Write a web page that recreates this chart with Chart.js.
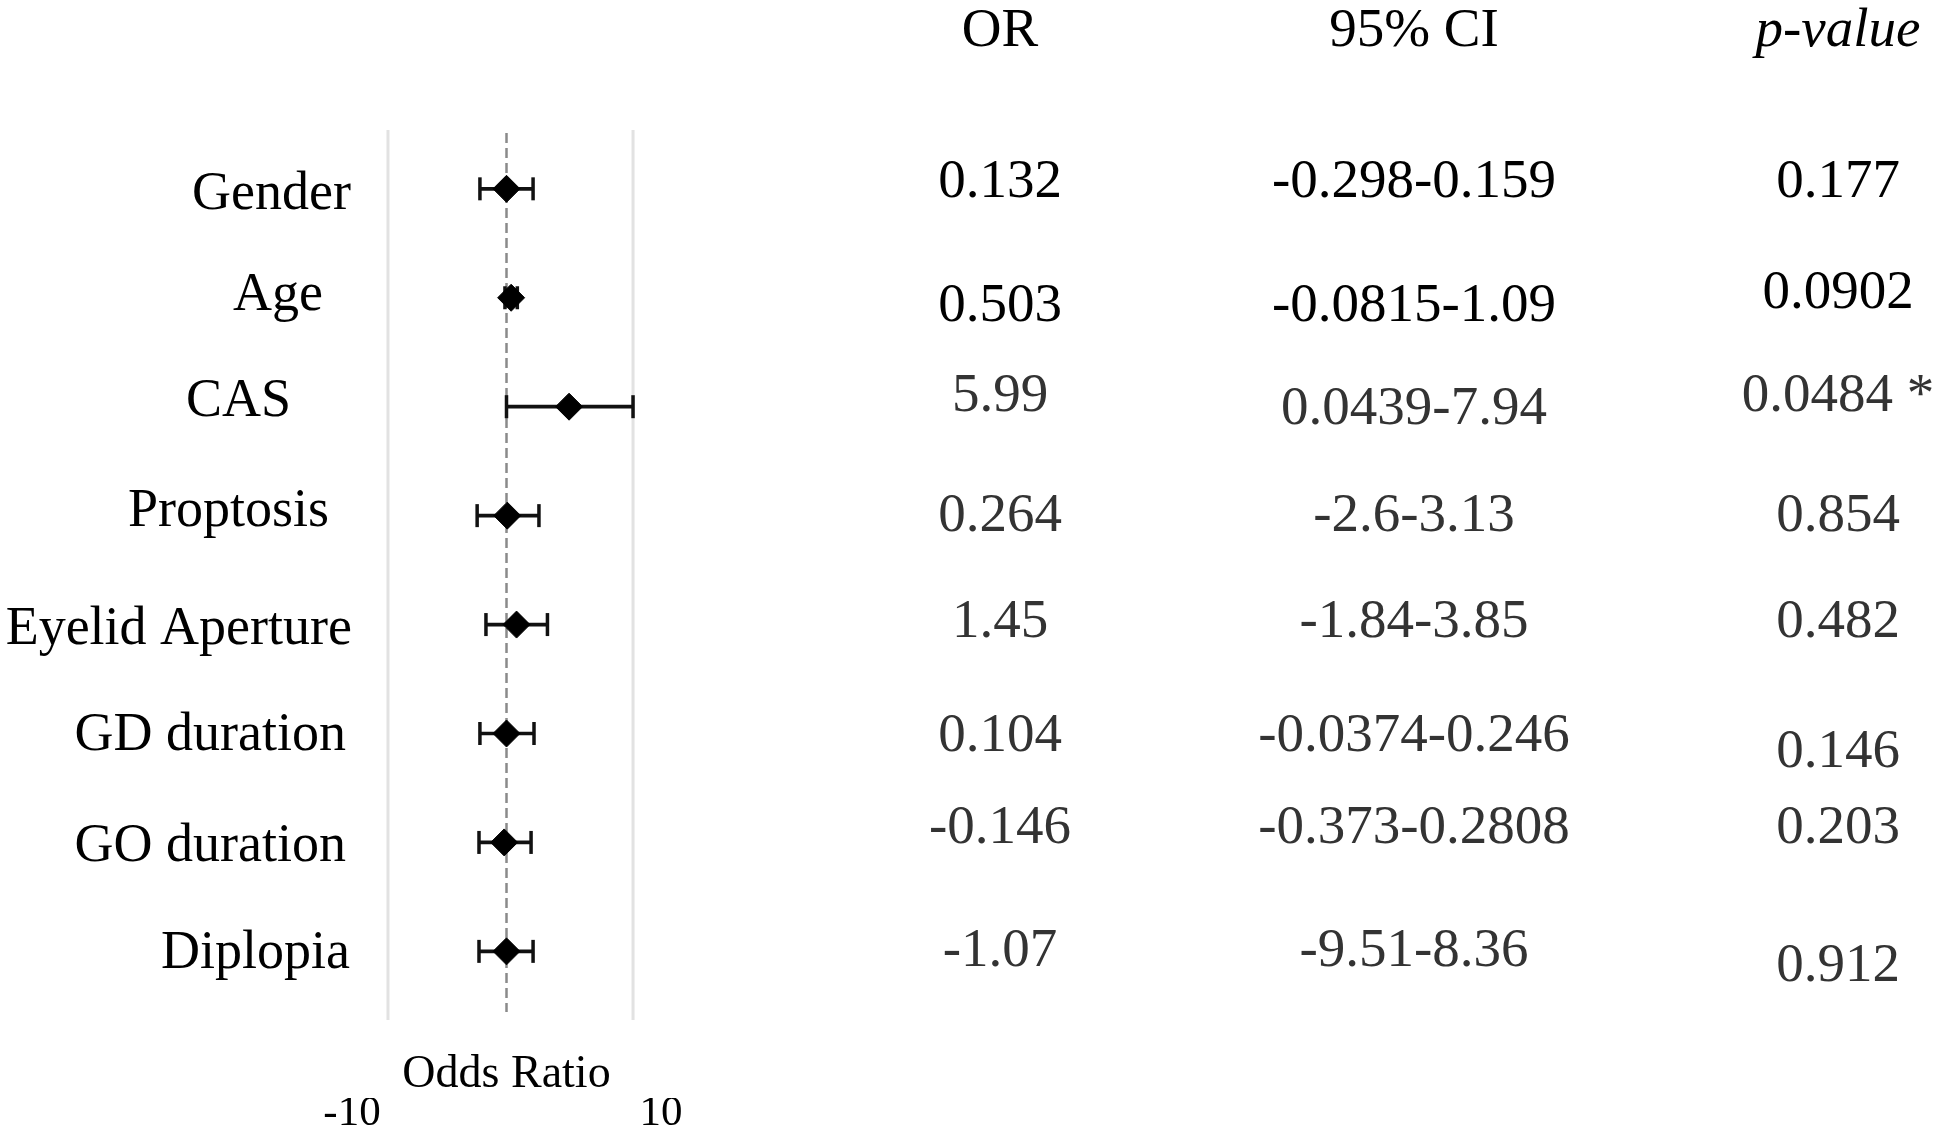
<!DOCTYPE html>
<html>
<head>
<meta charset="utf-8">
<script src="https://cdn.jsdelivr.net/npm/chart.js@4.4.1/dist/chart.umd.min.js"></script>
<style>
  html, body { margin: 0; padding: 0; background: #ffffff; }
  #wrap { position: relative; width: 1937px; height: 1130px; }
</style>
</head>
<body>
<div id="wrap"><canvas id="c"></canvas></div>
<script>
// ---- data ----
const categories = ['Gender', 'Age', 'CAS', 'Proptosis', 'Eyelid Aperture', 'GD duration', 'GO duration', 'Diplopia'];
const rowPos = [1, 2, 3, 4, 5, 6, 7, 8];
const estimate = [0.0, 0.3, 4.05, 0.05, 0.65, 0.0, -0.15, 0.0];
const ciLow = [-1.72, -0.1, 0.0, -1.9, -1.33, -1.72, -1.78, -1.78];
const ciHigh = [1.72, 0.7, 8.19, 2.1, 2.65, 1.78, 1.59, 1.72];
const xTicks = [-10, 10];
const refLine = 0;
const frameLines = [-7.67, 8.19];

const tableHeaders = ['OR', '95% CI', 'p-value'];
const orText = ['0.132', '0.503', '5.99', '0.264', '1.45', '0.104', '-0.146', '-1.07'];
const ciText = ['-0.298-0.159', '-0.0815-1.09', '0.0439-7.94', '-2.6-3.13', '-1.84-3.85', '-0.0374-0.246', '-0.373-0.2808', '-9.51-8.36'];
const pText = ['0.177', '0.0902', '0.0484 *', '0.854', '0.482', '0.146', '0.203', '0.912'];

// ---- layout (positions / styles only) ----
const SERIF = '"Liberation Serif", "Times New Roman", serif';
const Y_MIN = 0.46, Y_MAX = 8.63;
const labelRight = [351, 323, 291, 329, 352, 346, 346, 350];
const labelDy = [2, -6, -9, -8, 1, -2, 1, -1];
const colX = [1000, 1414, 1838];
const orDy = [-10, 5, -14, -3, -6, -1, -17, -3];
const ciDy = [-10, 5, -1, -3, -6, -1, -17, -3];
const pDy = [-10, -8, -14, -3, -6, 15, -17, 12];
const rowColor = ['#000000', '#000000', '#333333', '#333333', '#333333', '#333333', '#333333', '#333333'];

const whiskerData = categories.map((c, i) => ({ x: [ciLow[i], ciHigh[i]], y: rowPos[i] }));
const capData = [];
categories.forEach((c, i) => {
  capData.push({ x: ciLow[i], y: rowPos[i] });
  capData.push({ x: ciHigh[i], y: rowPos[i] });
});
const pointData = categories.map((c, i) => ({ x: estimate[i], y: rowPos[i] }));

const backgroundPlugin = {
  id: 'forestBackground',
  beforeDatasetsDraw(chart) {
    const { ctx, chartArea } = chart;
    const xs = chart.scales.x;
    ctx.save();
    ctx.strokeStyle = '#e2e2e2';
    ctx.lineWidth = 3;
    frameLines.forEach(v => {
      const px = xs.getPixelForValue(v);
      ctx.beginPath();
      ctx.moveTo(px, chartArea.top);
      ctx.lineTo(px, chartArea.bottom);
      ctx.stroke();
    });
    const rx = xs.getPixelForValue(refLine);
    ctx.strokeStyle = '#8a8a8a';
    ctx.lineWidth = 2.5;
    ctx.setLineDash([10, 5]);
    ctx.beginPath();
    ctx.moveTo(rx, chartArea.top + 3);
    ctx.lineTo(rx, chartArea.bottom - 8);
    ctx.stroke();
    ctx.restore();
  }
};

const textPlugin = {
  id: 'forestText',
  afterDraw(chart) {
    const { ctx } = chart;
    const ys = chart.scales.y;
    ctx.save();
    ctx.textBaseline = 'alphabetic';
    // category labels
    ctx.font = '54px ' + SERIF;
    ctx.fillStyle = '#000000';
    ctx.textAlign = 'right';
    categories.forEach((c, i) => {
      const y = ys.getPixelForValue(rowPos[i]) + labelDy[i] + 18;
      ctx.fillText(c, labelRight[i], y);
    });
    // headers
    ctx.textAlign = 'center';
    ctx.font = '55px ' + SERIF;
    ctx.fillText(tableHeaders[0], colX[0], 46);
    ctx.fillText(tableHeaders[1], colX[1], 46);
    ctx.font = 'italic 55px ' + SERIF;
    ctx.fillText(tableHeaders[2], colX[2], 46);
    // table values
    ctx.font = '55px ' + SERIF;
    categories.forEach((c, i) => {
      const base = ys.getPixelForValue(rowPos[i]) + 18;
      ctx.fillStyle = rowColor[i];
      ctx.fillText(orText[i], colX[0], base + orDy[i]);
      ctx.fillText(ciText[i], colX[1], base + ciDy[i]);
      ctx.fillText(pText[i], colX[2], base + pDy[i]);
    });
    ctx.restore();
  }
};

new Chart(document.getElementById('c'), {
  type: 'scatter',
  data: {
    datasets: [
      {
        type: 'bar',
        indexAxis: 'y',
        data: whiskerData,
        backgroundColor: '#111111',
        borderWidth: 0,
        barThickness: 3,
        order: 3
      },
      {
        type: 'scatter',
        data: capData,
        pointStyle: 'line',
        rotation: 90,
        pointRadius: 11.5,
        borderColor: '#111111',
        borderWidth: 3.5,
        order: 2
      },
      {
        type: 'scatter',
        data: pointData,
        pointStyle: 'rectRot',
        pointRadius: 13.5,
        backgroundColor: '#000000',
        borderColor: '#000000',
        borderWidth: 1,
        order: 1
      }
    ]
  },
  options: {
    responsive: true,
    maintainAspectRatio: false,
    animation: false,
    events: [],
    layout: { padding: { left: 352, right: 1276, top: 130, bottom: 0 } },
    plugins: { legend: { display: false }, tooltip: { enabled: false }, title: { display: false } },
    scales: {
      y: {
        type: 'linear',
        min: Y_MIN,
        max: Y_MAX,
        bounds: 'data',
        offset: false,
        grace: 0,
        reverse: true,
        display: false,
        grid: { offset: false },
        afterBuildTicks(s) {
          s.ticks = rowPos.map(v => ({ value: v }));
          s.min = Y_MIN;
          s.max = Y_MAX;
        }
      },
      x2: {
        type: 'linear',
        axis: 'x',
        position: 'bottom',
        weight: 0,
        min: -10,
        max: 10,
        offset: false,
        grid: { display: false, drawTicks: false },
        border: { display: false },
        ticks: { display: false },
        title: {
          display: true,
          text: 'Odds Ratio',
          color: '#000000',
          font: { family: SERIF, size: 46, lineHeight: 1 },
          padding: 0
        },
        afterFit(s) { s.height = 78; }
      },
      x: {
        type: 'linear',
        position: 'bottom',
        weight: 1,
        min: -10,
        max: 10,
        offset: false,
        afterBuildTicks(s) { s.ticks = xTicks.map(v => ({ value: v })); },
        grid: { display: false, drawTicks: false },
        border: { display: false },
        ticks: {
          color: '#000000',
          font: { family: SERIF, size: 43, lineHeight: 1 },
          padding: -6,
          maxRotation: 0,
          autoSkip: false
        },
        afterFit(s) { s.height = 32; }
      }
    }
  },
  plugins: [backgroundPlugin, textPlugin]
});
</script>
</body>
</html>
